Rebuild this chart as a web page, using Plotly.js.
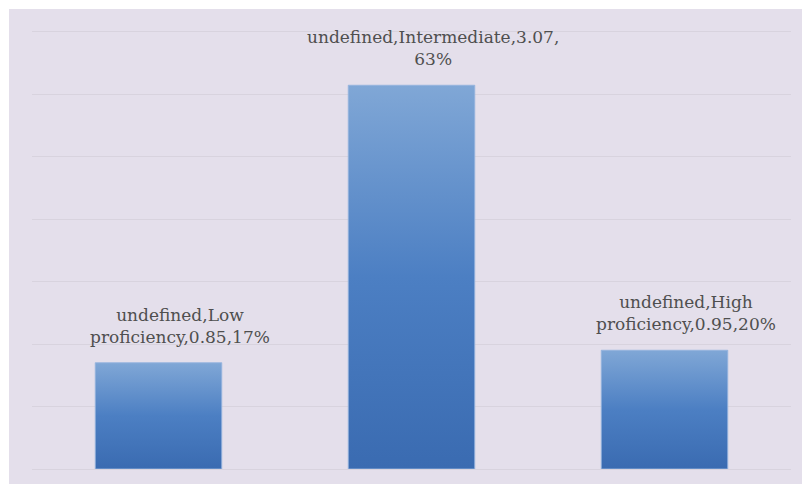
<!DOCTYPE html>
<html>
<head>
<meta charset="utf-8">
<script src="https://cdn.plot.ly/plotly-3.0.1.min.js"></script>
<style>
  html, body { margin: 0; padding: 0; background: #ffffff; width: 802px; height: 484px; overflow: hidden; }
  #chart { position: absolute; left: 9px; top: 9px; width: 793px; height: 475px; }
</style>
</head>
<body>
<div id="chart"></div>
<script>
const categories = ["Low proficiency", "Intermediate", "High proficiency"];
const values = [0.85, 3.07, 0.95];
const percents = ["17%", "63%", "20%"];
const labels = [
  "undefined,Low<br>proficiency,0.85,17%",
  "undefined,Intermediate,3.07,<br>63%",
  "undefined,High<br>proficiency,0.95,20%"
];

const trace = {
  type: "bar",
  x: categories,
  y: values,
  width: 0.5,
  marker: { color: "#4a7cc0", line: { color: "rgba(150,180,222,0.9)", width: 1 } },
  hoverinfo: "none"
};

const annotations = categories.map((c, i) => ({
  x: c, y: values[i], xref: "x", yref: "y",
  text: labels[i], showarrow: false,
  yanchor: "bottom", yshift: 14, xshift: 21,
  font: { family: "DejaVu Serif, serif", size: 17, color: "#4f4f4f" }
}));

const layout = {
  width: 793, height: 475,
  margin: { l: 22.5, r: 11, t: 16, b: 15, pad: 0 },
  paper_bgcolor: "#e4dfeb",
  plot_bgcolor: "#e4dfeb",
  showlegend: false,
  bargap: 0.5,
  xaxis: { showgrid: false, showticklabels: false, ticks: "", showline: false, zeroline: false, fixedrange: true },
  yaxis: {
    range: [0, 3.552], dtick: 0.5, tick0: 0,
    showgrid: true, gridcolor: "#d8d3de", gridwidth: 1,
    zeroline: true, zerolinecolor: "#d8d3de", zerolinewidth: 1,
    showticklabels: false, ticks: "", showline: false, fixedrange: true
  },
  annotations: annotations
};

Plotly.newPlot("chart", [trace], layout, { displayModeBar: false, staticPlot: true }).then(gd => {
  const svg = gd.querySelector("svg.main-svg");
  const ns = "http://www.w3.org/2000/svg";
  let defs = svg.querySelector("defs");
  if (!defs) { defs = document.createElementNS(ns, "defs"); svg.insertBefore(defs, svg.firstChild); }
  const lg = document.createElementNS(ns, "linearGradient");
  lg.setAttribute("id", "barGrad");
  lg.setAttribute("x1", "0"); lg.setAttribute("y1", "0");
  lg.setAttribute("x2", "0"); lg.setAttribute("y2", "1");
  [["0", "#80a7d6"], ["0.5", "#4c7fc3"], ["1", "#3a6bb1"]].forEach(([o, c]) => {
    const s = document.createElementNS(ns, "stop");
    s.setAttribute("offset", o); s.setAttribute("stop-color", c);
    lg.appendChild(s);
  });
  defs.appendChild(lg);
  gd.querySelectorAll(".bars .point path").forEach(p => { p.style.fill = "url(#barGrad)"; });
});
</script>
</body>
</html>
